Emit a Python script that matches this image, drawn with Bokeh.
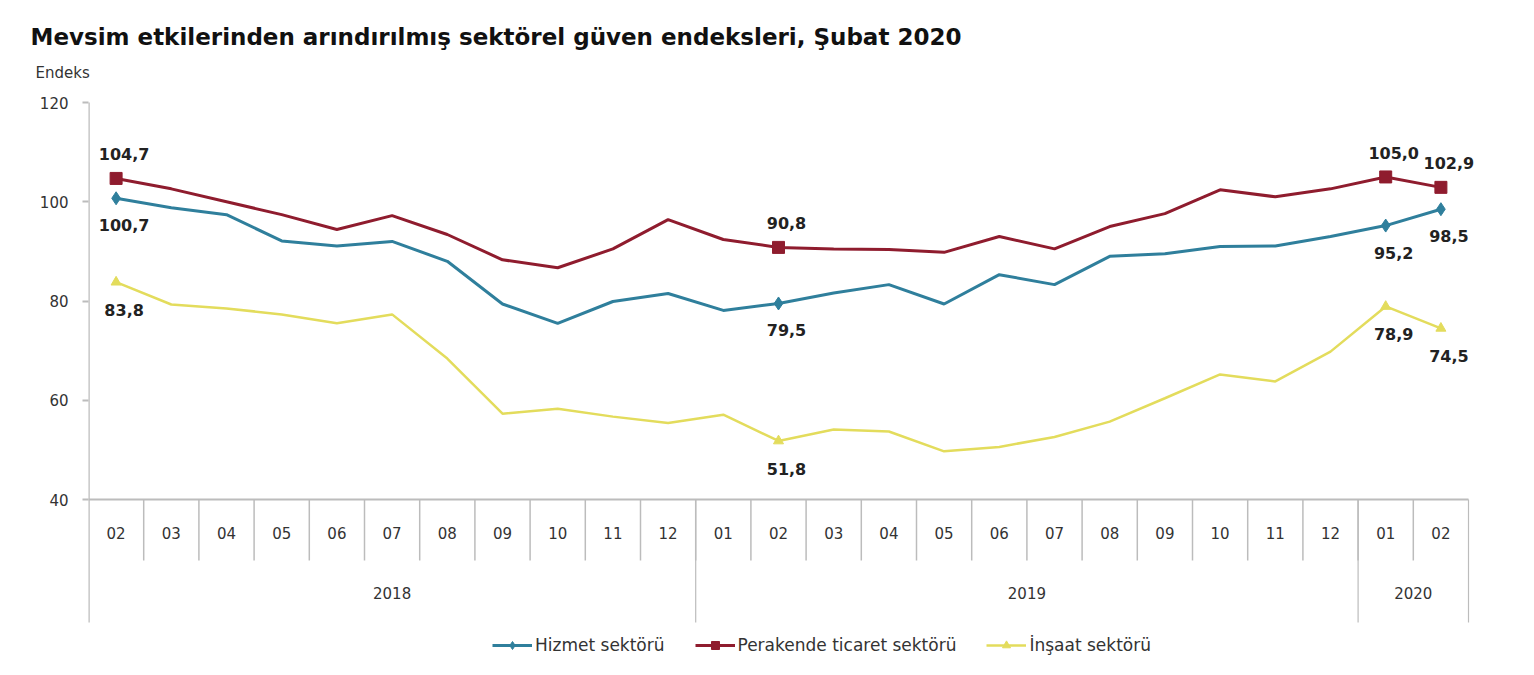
from bokeh.plotting import figure
from bokeh.models import (Range1d, FixedTicker, Legend, LegendItem, Title,
                          ColumnDataSource)
from bokeh.core.properties import value
from bokeh.embed import file_html
from bokeh.resources import INLINE

# ---------------- data ----------------
months = ["02", "03", "04", "05", "06", "07", "08", "09", "10", "11", "12",
          "01", "02", "03", "04", "05", "06", "07", "08", "09", "10", "11", "12",
          "01", "02"]
years = ["2018", "2019", "2020"]
year_counts = [11, 12, 2]

hizmet = [100.7, 98.8, 97.4, 92.1, 91.1, 92.0, 88.0, 79.4, 75.5, 79.9, 81.5,
          78.1, 79.5, 81.6, 83.3, 79.4, 85.3, 83.3, 89.0, 89.5, 91.0, 91.1, 93.0,
          95.2, 98.5]
perakende = [104.7, 102.6, 100.0, 97.4, 94.4, 97.2, 93.4, 88.3, 86.7, 90.5, 96.4,
             92.4, 90.8, 90.5, 90.4, 89.8, 93.0, 90.5, 95.0, 97.6, 102.4, 101.0, 102.6,
             105.0, 102.9]
insaat = [83.8, 79.3, 78.5, 77.3, 75.5, 77.3, 68.4, 57.3, 58.3, 56.7, 55.4,
          57.1, 51.8, 54.1, 53.7, 49.7, 50.6, 52.6, 55.7, 60.4, 65.2, 63.8, 69.8,
          78.9, 74.5]
labelled = [0, 12, 23, 24]
y_ticks = [40, 60, 80, 100, 120]

series_names = ["Hizmet sektörü", "Perakende ticaret sektörü", "İnşaat sektörü"]
title_text = "Mevsim etkilerinden arındırılmış sektörel güven endeksleri, Şubat 2020"
y_title = "Endeks"

# ---------------- layout ----------------
W, H = 1534, 675
FL = 88            # frame left (y axis position)
FT = 84            # frame top
PL, PR, PT, PB = 88, 1468, 102, 622   # chart/table box
n = len(months)
px_per_unit = (499 - PT) / (120 - 40)
px_per_x = (PR - PL) / n

y_hi = 120 + (PT - FT) / px_per_unit
y_lo = 120 - (H - PT) / px_per_unit
x_lo = -0.5
x_hi = -0.5 + (W - FL) / px_per_x

def ydata(py):
    return 120 - (py - PT) / px_per_unit

BLUE = "#2f7f9c"
RED = "#8f1c2e"
YELLOW = "#e3dc5c"
GRID = "#bcbcbc"
TXT = "#333333"

p = figure(width=W, height=H, output_backend="svg", toolbar_location=None,
           x_range=Range1d(x_lo, x_hi), y_range=Range1d(y_lo, y_hi),
           x_axis_location=None, min_border_left=FL, min_border_right=0,
           min_border_top=FT, min_border_bottom=0)
p.outline_line_color = None
p.xgrid.visible = False
p.ygrid.visible = False
p.background_fill_color = "white"
p.border_fill_color = "white"

# titles (outer: main title, inner: y label)
p.title.text = title_text
p.title.align = "left"
p.title.offset = 30 - FL
p.title.text_font = "DejaVu Sans"
p.title.text_font_size = "23px"
p.title.text_font_style = "bold"
p.title.text_color = "#111111"
p.title.standoff = 20
p.add_layout(Title(text=y_title, align="left", offset=35 - FL,
                   text_font="DejaVu Sans", text_font_style="normal",
                   text_font_size="15px", text_color=TXT, standoff=5),
             "above")

ax = p.yaxis[0]
ax.ticker = FixedTicker(ticks=y_ticks)
ax.axis_line_color = None
ax.major_tick_line_color = GRID
ax.major_tick_line_width = 2
ax.major_tick_out = 6
ax.major_tick_in = 0
ax.minor_tick_line_color = None
ax.major_label_standoff = 14
ax.major_label_text_font = "DejaVu Sans"
ax.major_label_text_font_size = "15px"
ax.major_label_text_color = TXT

x = list(range(n))
y_table_bottom = ydata(PB)

# left axis line (chart + table)
p.segment(x0=[-0.5], y0=[y_table_bottom], x1=[-0.5], y1=[120],
          line_color=GRID, line_width=2.5)
# category table below the plot
p.segment(x0=[-0.5], y0=[40], x1=[n - 0.5], y1=[40], line_color=GRID, line_width=2)
month_sep_x = [i + 0.5 for i in range(n - 1)]
p.segment(x0=month_sep_x, y0=[40] * len(month_sep_x), x1=month_sep_x,
          y1=[ydata(560)] * len(month_sep_x), line_color=GRID, line_width=1.5)
bounds = []
acc = -0.5
centers = []
for c in year_counts:
    centers.append(acc + c / 2)
    acc += c
    bounds.append(acc)
p.segment(x0=bounds, y0=[40] * len(bounds), x1=bounds,
          y1=[y_table_bottom] * len(bounds), line_color=GRID, line_width=1.2)
p.text(x=x, y=[ydata(532)] * n, text=months, text_align="center",
       text_baseline="middle", text_font=value("DejaVu Sans"),
       text_font_size="15px", text_color=TXT)
p.text(x=centers, y=[ydata(592)] * len(centers), text=years, text_align="center",
       text_baseline="middle", text_font=value("DejaVu Sans"),
       text_font_size="15px", text_color=TXT)

# series
items = []
specs = [
    (hizmet, BLUE, "diamond", 13, 27, 3),
    (perakende, RED, "square", 12, -24, 3),
    (insaat, YELLOW, "triangle", 10, 28, 2.5),
]
for name, (vals, col, mk, ms, yoff, lw) in zip(series_names, specs):
    lr = p.line(x, vals, line_color=col, line_width=lw)
    src = ColumnDataSource(dict(
        x=[x[i] for i in labelled],
        y=[vals[i] for i in labelled],
        t=[f"{vals[i]:.1f}".replace(".", ",") for i in labelled]))
    sr = p.scatter("x", "y", source=src, marker=mk, size=ms, fill_color=col,
                   line_color=col)
    p.text("x", "y", text="t", source=src, x_offset=8, y_offset=yoff,
           text_align="center", text_baseline="middle",
           text_font=value("DejaVu Sans"), text_font_style="bold",
           text_font_size="16px", text_color="#222222")
    items.append(LegendItem(label=name, renderers=[lr, sr]))

legend = Legend(items=items, orientation="horizontal",
                location=(492 - FL, 20),
                border_line_color=None, background_fill_alpha=0,
                label_text_font="DejaVu Sans", label_text_font_size="17px",
                label_text_color=TXT, glyph_width=40, spacing=30,
                padding=2, margin=0, label_standoff=3)
p.add_layout(legend)

open("out.html", "w").write(file_html(p, INLINE))
